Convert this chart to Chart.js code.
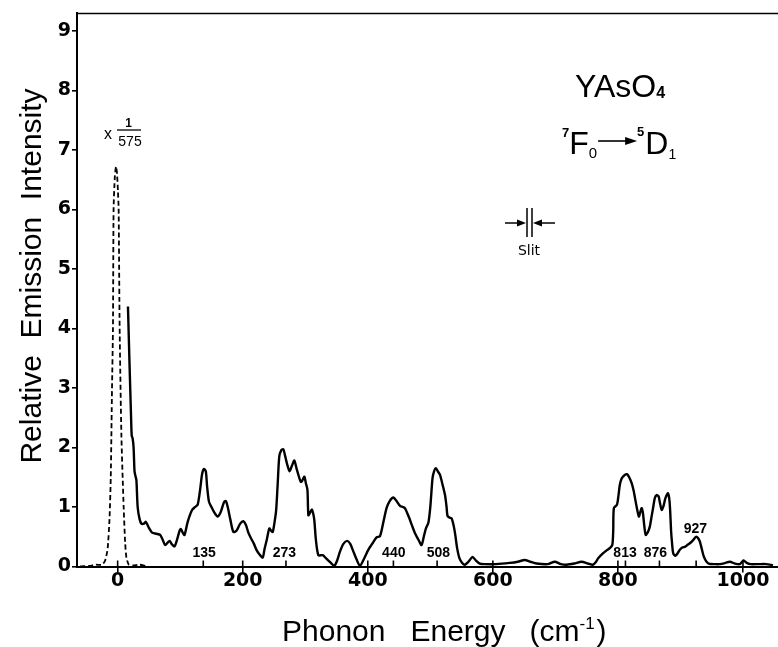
<!DOCTYPE html>
<html><head><meta charset="utf-8">
<script src="https://cdn.jsdelivr.net/npm/chart.js@4.4.1/dist/chart.umd.min.js"></script>
<style>html,body{margin:0;padding:0;background:#fff;overflow:hidden}canvas{display:block}</style>
</head><body>
<canvas id="c" width="778" height="647"></canvas>
<script>
// ---- data ----
const energySolid = [16.5,19,21.5,22.5,24,25.5,27,28.5,30,32,35,38,42,45,50,55,62,68,72,76,80,83,87,91,95,99,101,104,107,112,119,124,128,132,135,138,141,143,146,150,155,160,165,170,173,176,180,185,190,196,201,205,209,213,218,222,227,232,235,238.5,242.5,245.5,248,251,253.5,256,258.5,262,265,268,271,275,279,282.5,286,289,293,296,298.5,301,303.5,305,307.5,310.5,312.5,314.5,317,321,328,333,337,342,346.5,351,355.5,361,367,372,377,382,387.5,394,400.8,407,414,419.5,425,430,435,441,446,451.5,456,459.5,463,466.5,471,475.5,481,486,490,493,497,500,503.5,506,509,512,515.5,519,523.5,526,527.5,531,534,537,539.5,543,546.5,551,555.5,561,567.5,573,579,587,605,627,640,651,660,670,688,699,709,718,730,742,752,760,765,768.5,776,783,787,791,792.5,793.5,798.5,801,803,806,810,814.5,818,822,825,827,830,833.5,836,838,840,842,844.5,848,851,854,856.5,859,862,865,867,870,873,876,880,882,883.5,885,886.5,888.5,892,896,899,903,907,911,915,920,925,928,931,934,937,941,945,955,963,972,979,987,995,1001,1006,1012,1025,1037,1048];
const intensitySolid = [4.37,3.4,2.5,2.2,2.15,2.0,1.6,1.52,1.45,1.0,0.8,0.72,0.72,0.75,0.65,0.57,0.55,0.53,0.45,0.36,0.4,0.43,0.37,0.34,0.45,0.6,0.63,0.57,0.53,0.75,0.95,1.0,1.04,1.3,1.55,1.64,1.6,1.35,1.09,1.0,0.9,0.84,0.92,1.08,1.1,1.0,0.8,0.58,0.6,0.72,0.76,0.7,0.57,0.48,0.38,0.28,0.2,0.15,0.3,0.45,0.64,0.6,0.58,0.75,0.95,1.4,1.85,1.96,1.97,1.85,1.72,1.6,1.7,1.78,1.65,1.54,1.42,1.46,1.51,1.4,1.29,0.86,0.9,0.96,0.9,0.78,0.45,0.19,0.19,0.14,0.1,0.05,0.01,0.1,0.25,0.38,0.43,0.38,0.25,0.12,0.01,0.13,0.28,0.38,0.49,0.51,0.75,0.98,1.1,1.16,1.1,1.02,1.0,0.98,0.9,0.81,0.68,0.56,0.45,0.36,0.52,0.64,0.74,1.0,1.48,1.6,1.65,1.6,1.54,1.4,1.2,1.0,0.85,0.82,0.81,0.7,0.56,0.3,0.14,0.06,0.03,0.08,0.16,0.1,0.05,0.04,0.04,0.06,0.08,0.11,0.08,0.05,0.04,0.08,0.04,0.03,0.05,0.08,0.05,0.03,0.08,0.14,0.22,0.28,0.31,0.36,0.6,0.98,1.04,1.2,1.37,1.48,1.53,1.55,1.5,1.4,1.28,1.17,1.0,0.84,0.92,0.98,0.9,0.7,0.53,0.58,0.67,0.85,1.0,1.15,1.2,1.18,1.08,0.95,1.02,1.15,1.23,1.15,0.95,0.6,0.4,0.22,0.18,0.23,0.28,0.32,0.33,0.36,0.39,0.44,0.5,0.48,0.42,0.3,0.18,0.09,0.05,0.04,0.04,0.06,0.08,0.05,0.04,0.1,0.06,0.04,0.04,0.04,0.02];
const energyDashed = [-60,-45,-35,-25,-20,-16,-13,-11,-9,-7.5,-6.5,-4.5,-2.6,-1,0.5,1.6,3.2,6,9.6,12,14,18,25,35,45];
const intensityDashed = [0,0.01,0.03,0.03,0.1,0.3,0.8,1.5,3,4,6,6.55,6.72,6.6,6.3,6,4,2.2,1,0.4,0.15,0.03,0.02,0.03,0.01];
const xTickValues = [0,200,400,600,800,1000];
const yTickValues = [0,1,2,3,4,5,6,7,8,9];
const peakEnergies = [135,273,440,508,813,876,927];
const peakLabels = ['135','273','440','508','813','876','927'];
const xRange = [-65,1056];
const yRange = [0,9.3];

const toPts = (xs, ys) => xs.map((v,i)=>({x:v, y:ys[i]}));

function drawRuns(ctx, x, y, runs){
  let cx = x;
  runs.forEach(r=>{
    if (r.gap !== undefined){ cx += r.gap; return; }
    if (r.arrow){
      ctx.save(); ctx.lineWidth=1.6; ctx.strokeStyle='#000';
      ctx.beginPath(); ctx.moveTo(cx+1, y+r.dy); ctx.lineTo(cx+r.len-8, y+r.dy); ctx.stroke();
      ctx.beginPath(); ctx.moveTo(cx+r.len, y+r.dy); ctx.lineTo(cx+r.len-12, y+r.dy-4); ctx.lineTo(cx+r.len-12, y+r.dy+4); ctx.closePath(); ctx.fill();
      ctx.restore(); cx += r.len; return;
    }
    ctx.font = r.f;
    ctx.fillText(r.t, cx, y + (r.dy||0));
    cx += ctx.measureText(r.t).width;
  });
}

const TF = '"Liberation Sans", Arial, sans-serif';
// small pixel nudges of the hand-lettered peak labels, as placed in the original artwork
const labelNudge = [2,-4,1,3,-1,-10,-2];

const annotate = {
  id:'annotate',
  afterDraw(chart){
    const {ctx, chartArea:a, scales:{x, y}} = chart;
    ctx.save();
    ctx.fillStyle='#000'; ctx.strokeStyle='#000';
    // top frame line
    ctx.lineWidth=1.5;
    ctx.beginPath(); ctx.moveTo(a.left, a.top+0.5); ctx.lineTo(a.right, a.top+0.5); ctx.stroke();
    // inner tick marks on the energy axis
    const y0 = y.getPixelForValue(0);
    ctx.lineWidth=1.6;
    xTickValues.forEach(v=>{
      const px = x.getPixelForValue(v);
      ctx.beginPath(); ctx.moveTo(px, y0); ctx.lineTo(px, y0-6); ctx.stroke();
    });
    peakEnergies.forEach((v,i)=>{
      const px = x.getPixelForValue(v) + labelNudge[i]*0.6;
      ctx.beginPath(); ctx.moveTo(px, y0); ctx.lineTo(px, y0-6); ctx.stroke();
    });
    // peak labels
    ctx.font = 'bold 14px ' + TF; ctx.textAlign='center'; ctx.textBaseline='alphabetic';
    peakEnergies.forEach((v,i)=>{
      const lv = (i === peakEnergies.length-1) ? 0.56 : 0.16;
      ctx.fillText(peakLabels[i], x.getPixelForValue(v) + labelNudge[i], y.getPixelForValue(lv));
    });
    // axis titles
    ctx.textAlign='left';
    drawRuns(ctx, 282, 641, [
      {t:'Phonon', f:'30px '+TF}, {gap:25}, {t:'Energy', f:'30px '+TF}, {gap:24},
      {t:'(cm', f:'30px '+TF}, {t:'-1', f:'17px '+TF, dy:-12}, {gap:2}, {t:')', f:'30px '+TF}
    ]);
    ctx.save();
    ctx.translate(41, 276); ctx.rotate(-Math.PI/2);
    ctx.textAlign='center'; ctx.font='30px '+TF;
    ctx.fillText('Relative  Emission  Intensity', 0, 0);
    ctx.restore();
    // compound and transition
    ctx.textAlign='left';
    drawRuns(ctx, 575, 97, [{t:'YAsO', f:'32px '+TF}, {t:'4', f:'bold 16px '+TF, dy:1}]);
    drawRuns(ctx, 562, 154, [
      {t:'7', f:'bold 13px '+TF, dy:-17}, {t:'F', f:'32px '+TF}, {t:'0', f:'15px '+TF, dy:4},
      {arrow:true, len:40, dy:-13},
      {t:'5', f:'bold 13px '+TF, dy:-18}, {gap:1}, {t:'D', f:'32px '+TF}, {t:'1', f:'14px '+TF, dy:5}
    ]);
    // x 1/575
    ctx.font='16px '+TF; ctx.fillText('x', 104, 139);
    ctx.textAlign='center';
    ctx.font='bold 12px '+TF; ctx.fillText('1', 128.5, 127);
    ctx.lineWidth=1.3; ctx.beginPath(); ctx.moveTo(117,130); ctx.lineTo(141,130); ctx.stroke();
    ctx.font='14px '+TF; ctx.fillText('575', 130, 146);
    // slit symbol
    ctx.lineWidth=1.5;
    ctx.beginPath(); ctx.moveTo(505,223); ctx.lineTo(520,223); ctx.stroke();
    ctx.beginPath(); ctx.moveTo(526,223); ctx.lineTo(517,219.5); ctx.lineTo(517,226.5); ctx.closePath(); ctx.fill();
    ctx.beginPath(); ctx.moveTo(527,208); ctx.lineTo(527,237); ctx.moveTo(532,208); ctx.lineTo(532,237); ctx.stroke();
    ctx.beginPath(); ctx.moveTo(555,223); ctx.lineTo(539,223); ctx.stroke();
    ctx.beginPath(); ctx.moveTo(533,223); ctx.lineTo(542,219.5); ctx.lineTo(542,226.5); ctx.closePath(); ctx.fill();
    ctx.font='14px "DejaVu Sans", sans-serif'; ctx.fillText('Slit', 529, 255);
    ctx.restore();
  }
};

const tickFont = {family:'"DejaVu Sans", sans-serif', size:19, weight:'bold', lineHeight:1};

new Chart(document.getElementById('c'), {
  type:'scatter',
  data:{ datasets:[
    { data: toPts(energySolid, intensitySolid), showLine:true, borderColor:'#000', borderWidth:2.4, pointRadius:0, tension:0.25, fill:false },
    { data: toPts(energyDashed, intensityDashed), showLine:true, borderColor:'#000', borderWidth:1.8, borderDash:[5,3], pointRadius:0, tension:0.2, fill:false }
  ]},
  options:{
    responsive:false, animation:false, devicePixelRatio:1,
    layout:{ padding:{ top:13, right:0, bottom:0, left:0 } },
    plugins:{ legend:{display:false}, tooltip:{enabled:false} },
    scales:{
      x:{ type:'linear', min:xRange[0], max:xRange[1],
        afterBuildTicks: s => { s.ticks = xTickValues.map(v=>({value:v})); },
        afterFit: s => { s.height = 80.5; },
        grid:{ drawOnChartArea:false, drawTicks:true, tickLength:6, color:'#000', lineWidth:1.6 },
        border:{ display:true, color:'#000', width:2 },
        ticks:{ color:'#000', font:tickFont, padding:-1, maxRotation:0, autoSkip:false, callback: v => String(v) }
      },
      y:{ type:'linear', min:yRange[0], max:yRange[1],
        afterBuildTicks: s => { s.ticks = yTickValues.map(v=>({value:v})); },
        afterFit: s => { s.width = 77; },
        grid:{ drawOnChartArea:false, drawTicks:true, tickLength:5, color:'#000', lineWidth:1.6 },
        border:{ display:true, color:'#000', width:2 },
        ticks:{ color:'#000', font:tickFont, padding:1, autoSkip:false, callback: v => String(v) }
      }
    }
  },
  plugins:[annotate]
});
</script>
</body></html>
